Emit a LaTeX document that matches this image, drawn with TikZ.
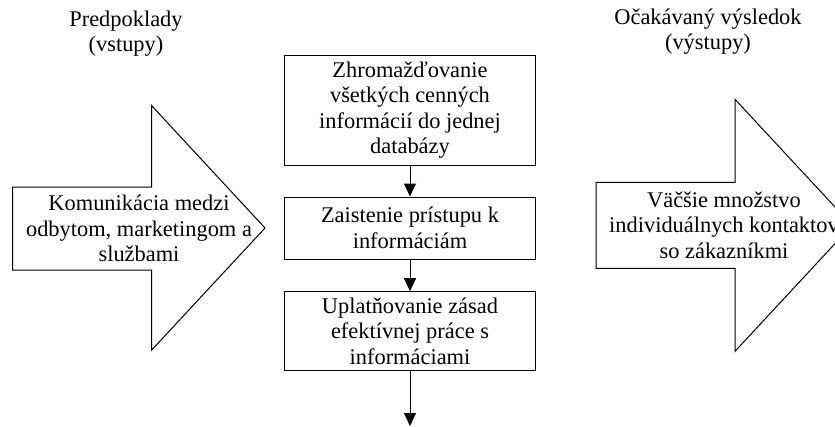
\documentclass[tikz,border=0pt]{standalone}
\usepackage{fontspec}
\setmainfont{Liberation Serif}
\usetikzlibrary{arrows.meta}
\begin{document}
\begin{tikzpicture}[x=1pt,y=-1pt,
  every node/.style={font=\fontsize{22.4}{25.5}\selectfont, inner sep=0pt, align=center},
  box/.style={draw, line width=1pt, minimum width=251.7pt, anchor=center},
  bigarrow/.style={draw, line width=1pt, fill=white, line join=miter},
  flow/.style={draw, line width=1pt, -{Triangle[length=13pt,width=12pt]}}]
\useasboundingbox (0,0) rectangle (835,426);
% titles (base anchor = baseline of last line)
\node[anchor=base] (tin) at (126,51.5) {Predpoklady\\(vstupy)};
\node[anchor=base] (tout) at (708,49.5) {Očakávaný výsledok\\(výstupy)};
% left big arrow
\draw[bigarrow] (12.7,187) -- (151.7,187) -- (151.7,105.7) -- (265,228) -- (151.7,350) -- (151.7,270) -- (12.7,270) -- cycle;
\node[anchor=base] (ain) at (139,261.7) {Komunikácia medzi\\odbytom, marketingom a\\službami};
% right big arrow
\draw[bigarrow] (596,182.3) -- (735,182.3) -- (735,99.3) -- (852,225.3) -- (735,351.3) -- (735,268.3) -- (596,268.3) -- cycle;
\node[anchor=base] (aout) at (724,258) {Väčšie množstvo\\individuálnych kontaktov\\so zákazníkmi};
% central flow
\node[box, minimum height=109.3pt] (b1) at (410,110.35) {Zhromažďovanie\\všetkých cenných\\informácií do jednej\\databázy};
\node[box, minimum height=62pt] (b2) at (410,228) {Zaistenie prístupu k\\informáciám};
\node[box, minimum height=78.3pt] (b3) at (410,330.85) {Uplatňovanie zásad\\efektívnej práce s\\informáciami};
\coordinate (end) at (410,426);
\draw[flow] (b1.south) -- (b2.north);
\draw[flow] (b2.south) -- (b3.north);
\draw[flow] (b3.south) -- (end);
\end{tikzpicture}
\end{document}
